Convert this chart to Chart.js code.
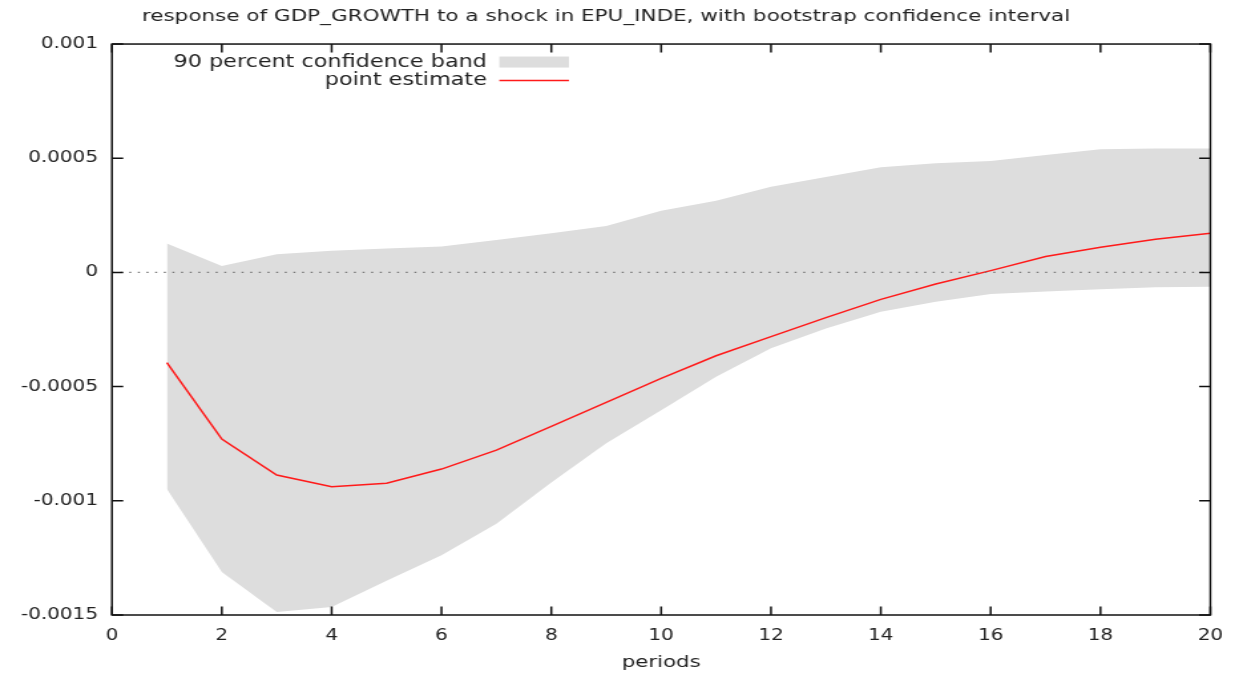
<!DOCTYPE html>
<html>
<head>
<meta charset="utf-8">
<script src="https://cdn.jsdelivr.net/npm/chart.js@4.4.0/dist/chart.umd.min.js"></script>
<style>
  html, body { margin: 0; padding: 0; background: #fff; overflow: hidden; }
  /* plot is drawn narrow, then stretched sideways like the exported png */
  #wrap { width: 932px; height: 673px; transform: scaleX(1.3294); transform-origin: 0 0; }
</style>
</head>
<body>
<div id="wrap"><canvas id="irf"></canvas></div>
<script>
var periods = [1, 2, 3, 4, 5, 6, 7, 8, 9, 10, 11, 12, 13, 14, 15, 16, 17, 18, 19, 20];

var pointEstimate = [-0.000395, -0.00073, -0.000887, -0.000938, -0.000923, -0.000861, -0.000778,
  -0.000674, -0.000569, -0.000464, -0.000365, -0.000281, -0.000198, -0.000118, -0.000051,
  0.000008, 0.00007, 0.00011, 0.000145, 0.000172];

var bandUpper = [0.000127, 0.000028, 0.00008, 0.000095, 0.000105, 0.000113, 0.000142,
  0.000171, 0.000203, 0.00027, 0.000314, 0.000375, 0.000418, 0.00046, 0.000478,
  0.000488, 0.000514, 0.000539, 0.000543, 0.000543];

var bandLower = [-0.000948, -0.001312, -0.001487, -0.001465, -0.00135, -0.001238, -0.0011,
  -0.00092, -0.000748, -0.000603, -0.000457, -0.000332, -0.000245, -0.000172, -0.000128,
  -0.000095, -0.000083, -0.000074, -0.000065, -0.000063];

var xTicks = { min: 0, max: 20, step: 2 };
var yTicks = { min: -0.0015, max: 0.001, step: 0.0005 };

function pairs(values) {
  return periods.map(function(p, i) { return { x: p, y: values[i] }; });
}

var TICK = 8.5;
var FONT = '"DejaVu Sans", Verdana, sans-serif';

// frame, inward ticks on all four sides, and the dotted zero line
var frameTicks = {
  id: 'frameTicks',
  afterDatasetsDraw: function(chart) {
    var ctx = chart.ctx, a = chart.chartArea;
    var x = chart.scales.x, y = chart.scales.y;
    ctx.save();
    var y0 = y.getPixelForValue(0);
    ctx.strokeStyle = '#777';
    ctx.lineWidth = 1.2;
    ctx.setLineDash([1.5, 5]);
    ctx.beginPath();
    ctx.moveTo(a.left, y0);
    ctx.lineTo(a.right, y0);
    ctx.stroke();
    ctx.setLineDash([]);

    ctx.strokeStyle = '#111';
    ctx.lineWidth = 1.5;
    ctx.strokeRect(a.left, a.top, a.right - a.left, a.bottom - a.top);
    ctx.beginPath();
    x.ticks.forEach(function(t) {
      var px = x.getPixelForValue(t.value);
      ctx.moveTo(px, a.bottom); ctx.lineTo(px, a.bottom - TICK);
      ctx.moveTo(px, a.top); ctx.lineTo(px, a.top + TICK);
    });
    y.ticks.forEach(function(t) {
      var py = y.getPixelForValue(t.value);
      ctx.moveTo(a.left, py); ctx.lineTo(a.left + TICK, py);
      ctx.moveTo(a.right, py); ctx.lineTo(a.right - TICK, py);
    });
    ctx.stroke();
    ctx.restore();
  }
};

// key in the top left corner: text right-aligned, sample to its right
var keyBox = {
  id: 'keyBox',
  afterDraw: function(chart) {
    var ctx = chart.ctx, a = chart.chartArea;
    var rows = chart.data.datasets.filter(function(d) { return d.label; });
    ctx.save();
    ctx.font = '16.8px ' + FONT;
    ctx.textAlign = 'right';
    ctx.textBaseline = 'middle';
    rows.forEach(function(d, i) {
      var cy = a.top + 18.5 + i * 18;
      ctx.fillStyle = '#222';
      ctx.fillText(d.label, a.left + 282, cy);
      if (d.fill) {
        ctx.fillStyle = d.backgroundColor;
        ctx.fillRect(a.left + 291.4, cy - 6, 52.4, 11);
      } else {
        ctx.strokeStyle = d.borderColor;
        ctx.lineWidth = d.borderWidth;
        ctx.beginPath();
        ctx.moveTo(a.left + 291.4, cy);
        ctx.lineTo(a.left + 343.8, cy);
        ctx.stroke();
      }
    });
    ctx.restore();
  }
};

var chart = new Chart(document.getElementById('irf').getContext('2d'), {
  type: 'line',
  data: {
    datasets: [
      {
        label: '90 percent confidence band',
        data: pairs(bandUpper),
        fill: '+1',
        backgroundColor: '#dddddd',
        borderColor: 'rgba(0,0,0,0)',
        borderWidth: 0,
        pointRadius: 0,
        order: 1
      },
      {
        label: '',
        data: pairs(bandLower),
        fill: false,
        borderColor: 'rgba(0,0,0,0)',
        borderWidth: 0,
        pointRadius: 0,
        order: 1
      },
      {
        label: 'point estimate',
        data: pairs(pointEstimate),
        fill: false,
        borderColor: '#ff1a1a',
        borderWidth: 1.5,
        pointRadius: 0,
        tension: 0,
        order: 0
      }
    ]
  },
  options: {
    responsive: true,
    maintainAspectRatio: false,
    animation: false,
    layout: { padding: { left: 0, right: 20.3, top: 0, bottom: 0 } },
    plugins: {
      legend: { display: false },
      tooltip: { enabled: false },
      title: {
        display: true,
        text: 'response of GDP_GROWTH to a shock in EPU_INDE, with bootstrap confidence interval',
        color: '#222',
        font: { family: FONT, size: 16.2, weight: 'normal' },
        padding: { top: 7.5, bottom: 17.1 }
      }
    },
    scales: {
      x: {
        type: 'linear',
        min: xTicks.min,
        max: xTicks.max,
        grid: { display: false, drawTicks: false },
        border: { display: false },
        ticks: {
          stepSize: xTicks.step,
          padding: 12,
          color: '#222',
          font: { family: FONT, size: 15 }
        },
        title: {
          display: true,
          text: 'periods',
          color: '#222',
          font: { family: FONT, size: 16 },
          padding: { top: 0, bottom: 1 }
        },
        afterFit: function(scale) { scale.height = 58; }
      },
      y: {
        type: 'linear',
        min: yTicks.min,
        max: yTicks.max,
        grid: { display: false, drawTicks: false },
        border: { display: false },
        ticks: {
          stepSize: yTicks.step,
          padding: 10.5,
          color: '#222',
          font: { family: FONT, size: 15 },
          callback: function(v) { return String(+v.toFixed(4)); }
        },
        afterFit: function(scale) { scale.width = 84.2; }
      }
    }
  },
  plugins: [frameTicks, keyBox]
});
</script>
</body>
</html>
